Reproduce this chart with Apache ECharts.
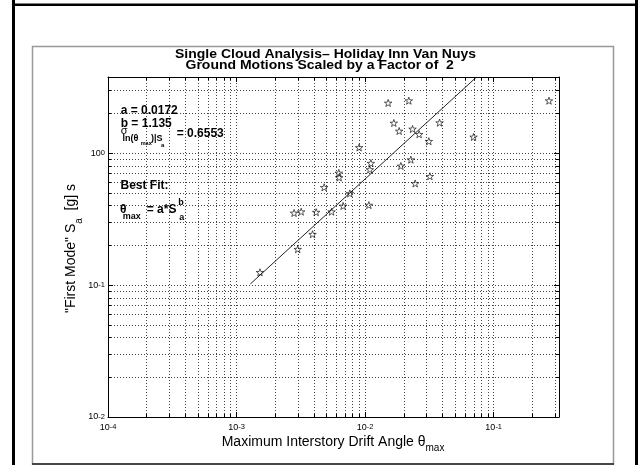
<!DOCTYPE html>
<html><head><meta charset="utf-8">
<script src="https://cdn.jsdelivr.net/npm/echarts@6/dist/echarts.min.js"></script>
<style>html,body{margin:0;padding:0;background:#fff}#c{width:639px;height:465px}</style>
</head><body><div id="c"></div>
<script>
// ---- data ----
const driftTheta = [0.00152, 0.00299, 0.00280, 0.00318, 0.00390, 0.00416, 0.00480, 0.00548, 0.00624, 0.00628,
  0.00674, 0.00760, 0.00898, 0.01069, 0.01088, 0.01108, 0.0151, 0.01672, 0.01839, 0.01896,
  0.02188, 0.02268, 0.02338, 0.0245, 0.0263, 0.0313, 0.0319, 0.0379, 0.0697, 0.269];
const firstModeSa = [0.125, 0.187, 0.352, 0.360, 0.243, 0.357, 0.551, 0.360, 0.708, 0.654,
  0.398, 0.495, 1.105, 0.404, 0.752, 0.840, 2.402, 1.694, 1.473, 0.800,
  2.50, 0.893, 1.526, 0.589, 1.391, 1.231, 0.668, 1.703, 1.327, 2.50];
const fitTheta = [0.00128, 0.0736];
const fitSa = [0.102, 3.78];
const xRange = [1e-4, 0.322];
const yRange = [0.01, 3.78];
const titleLines = ['Single Cloud Analysis\u2013 Holiday Inn Van Nuys', 'Ground Motions Scaled by a Factor of  2'];
const fitText = ['a = 0.0172', 'b = 1.135', '= 0.6553', 'Best Fit:'];

const FF = '"Liberation Sans", Arial, Helvetica, sans-serif';
const starPath = 'path://M50,0 L61.8,35.1 L97.6,34.5 L69,56 L79.4,90.5 L50,70 L20.6,90.5 L31,56 L2.4,34.5 L38.2,35.1 Z';

function powLabel(v) {
  const l = Math.log10(v), e = Math.round(l);
  if (Math.abs(l - e) > 1e-6) return '';
  return '{b|10}{s|' + e + '}';
}
const labelRich = {
  b: {fontSize: 9, lineHeight: 9, verticalAlign: 'bottom', fontFamily: FF, color: '#000'},
  s: {fontSize: 7.5, lineHeight: 8, padding: [0, 0, 5, 0], verticalAlign: 'top', fontFamily: FF, color: '#000'}
};
const gridStyle = {color: '#444', width: 1, type: [1, 2]};

function axisBase(range, pos, main, margin) {
  return {
    type: 'log', logBase: 10, min: range[0], max: range[1], position: pos,
    axisLine: {show: true, onZero: false, lineStyle: {color: '#000', width: 1}},
    axisTick: {show: true, inside: true, length: 5, lineStyle: {color: '#000', width: 1}},
    minorTick: {show: true, splitNumber: 9, length: 3, lineStyle: {color: '#000', width: 1}},
    splitLine: {show: main, lineStyle: gridStyle},
    minorSplitLine: {show: main, lineStyle: gridStyle},
    axisLabel: main ? {show: true, formatter: powLabel, margin: margin, rich: labelRich, fontFamily: FF, color: '#000'} : {show: false}
  };
}

function txt(text, x, y, size, weight, extra, sy) {
  return {type: 'text', x: x, y: y, scaleY: sy || 1, silent: true, z: 10,
    style: Object.assign({text: text, fontSize: size, fontWeight: weight, fontFamily: FF, fill: '#000',
      align: 'left', verticalAlign: 'middle'}, extra || {})};
}
function line(x1, y1, x2, y2, w, c) {
  return {type: 'line', silent: true, z: 10, shape: {x1, y1, x2, y2}, style: {stroke: c, lineWidth: w}};
}

const chart = echarts.init(document.getElementById('c'), null, {renderer: 'canvas'});
chart.setOption({
  animation: false,
  backgroundColor: '#fff',
  grid: {left: 108, top: 77, width: 451, height: 340, containLabel: false},
  xAxis: [axisBase(xRange, 'bottom', true, 6), axisBase(xRange, 'top', false)],
  yAxis: [axisBase(yRange, 'left', true, 3), axisBase(yRange, 'right', false)],
  series: [
    {type: 'line', data: fitTheta.map((x, i) => [x, fitSa[i]]), symbol: 'none', clip: true,
      lineStyle: {color: '#222', width: 1}, z: 2, silent: true},
    {type: 'scatter', data: driftTheta.map((x, i) => [x, firstModeSa[i]]), symbol: starPath,
      symbolSize: 7.5, symbolKeepAspect: true,
      itemStyle: {color: 'rgba(255,255,255,0)', borderColor: '#000', borderWidth: 0.8}, z: 3, silent: true}
  ],
  graphic: [
    // outer frame
    line(13.5, 0, 13.5, 465, 3, '#000'),
    line(636.5, 0, 636.5, 465, 3, '#000'),
    line(12, 4.8, 638, 4.8, 2.5, '#000'),
    // inner figure frame
    {type: 'rect', silent: true, z: 1, shape: {x: 32.5, y: 46.5, width: 581, height: 417.5},
      style: {fill: 'none', stroke: '#999', lineWidth: 1.5}},
    line(32, 464, 614, 464, 1.5, '#222'),
    // title
    txt(titleLines[0], 175, 54.5, 14, 'bold', null, 0.9),
    txt(titleLines[1], 185.5, 66, 14, 'bold', null, 0.9),
    // fit annotations
    txt(fitText[0], 120.7, 110.7, 12, 'bold'),
    txt(fitText[1], 120.7, 124, 12, 'bold'),
    txt('\u03c3', 120.7, 131, 11, 'normal'),
    txt('ln(\u03b8', 122.5, 138.5, 9, 'bold'),
    txt('max', 140.7, 143.5, 5.5, 'bold'),
    txt(')|S', 151, 138.5, 9, 'bold'),
    txt('a', 161, 145, 6, 'bold'),
    txt(fitText[2], 176.7, 133.3, 12, 'bold'),
    txt(fitText[3], 120.5, 186, 12, 'bold'),
    txt('\u03b8', 120, 209.5, 12, 'bold'),
    txt('max', 122.7, 216.7, 9, 'bold'),
    txt('= a*S', 146.7, 210, 12, 'bold'),
    txt('b', 178.3, 202.7, 9, 'bold'),
    txt('a', 179.3, 217.3, 9, 'bold'),
    // axis titles
    {type: 'text', x: 221.7, y: 435, silent: true, z: 10,
      style: {text: '{t|Maximum Interstory Drift Angle \u03b8}{s|max}', align: 'left', verticalAlign: 'top',
        rich: {t: {fontSize: 14, lineHeight: 14, verticalAlign: 'top', fontFamily: FF, fill: '#000'},
               s: {fontSize: 10, lineHeight: 10, padding: [8, 0, 0, 0], verticalAlign: 'top', fontFamily: FF, fill: '#000'}}}},
    {type: 'text', x: 71, y: 248.5, rotation: Math.PI / 2, silent: true, z: 10,
      style: {text: '{t|"First Mode" S}{s|a}{t|  [g] s}', align: 'center', verticalAlign: 'middle',
        rich: {t: {fontSize: 14, lineHeight: 14, verticalAlign: 'top', fontFamily: FF, fill: '#000'},
               s: {fontSize: 10, lineHeight: 10, padding: [10, 0, 0, 0], verticalAlign: 'top', fontFamily: FF, fill: '#000'}}}}
  ]
});
</script></body></html>
